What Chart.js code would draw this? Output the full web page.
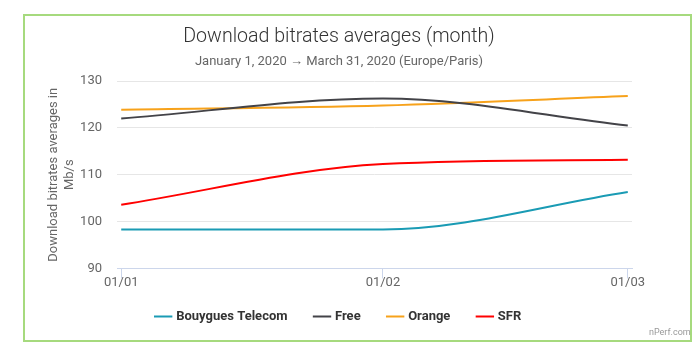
<!DOCTYPE html>
<html>
    <head>
        <meta charset="utf-8">
        <title>Download bitrates averages (month)</title>
        <script src="https://cdn.jsdelivr.net/npm/chart.js@4"></script>
        <style>
            body { margin: 0; background: #fff; font-family: Roboto, sans-serif; }
            #frame { position: absolute; left: 23px; top: 14px; width: 665px; height: 324px; border: 2px solid #a6da7e; }
            #wrap { position: absolute; left: 0; top: 0; width: 700px; height: 350px; }
            #credit { position: absolute; left: 649px; top: 327px; font-size: 9px; color: #999; }
        </style>
    </head>
    <body>
        <div id="frame"></div>
        <div id="wrap"><canvas id="index-chart"></canvas></div>
        <div id="credit">nPerf.com</div>
        <script>
            // days since 1 Jan 2020 (time axis, 2020 is a leap year)
            var array_days = [0, 31, 60];
            var array_tick_labels = ['01/01', '01/02', '01/03'];

            var bouygues = [98.3, 98.3, 106.3];
            var free = [122.0, 126.3, 120.5];
            var orange = [123.9, 124.8, 126.8];
            var sfr = [103.6, 112.3, 113.2];

            var array_names = ['Bouygues Telecom', 'Free', 'Orange', 'SFR'];
            var array_values = [bouygues, free, orange, sfr];
            var array_borderColor = ['#1a9bb4', '#434348', '#f7a21b', '#ff0000'];

            var array_datasets = [];
            for (i = 0; i < array_names.length; i++) {
                array_datasets.push({
                    'label': array_names[i],
                    'data': array_days.map((d, j) => ({x: d, y: array_values[i][j]})),
                    'borderColor': array_borderColor[i],
                    'backgroundColor': array_borderColor[i],
                    'borderWidth': 2,
                    'pointRadius': 0,
                    'fill': false,
                    'cubicInterpolationMode': 'monotone'
                });
            }

            // legend spacing is wide sideways but should stay short vertically
            var legendTweak = {
                id: 'legendTweak',
                beforeLayout: function(chart) {
                    var lg = chart.legend;
                    if (lg && !lg._patched) {
                        var fit = lg.fit;
                        lg.fit = function() {
                            fit.call(this);
                            this.height = 62;
                        };
                        lg._patched = true;
                    }
                },
                afterLayout: function(chart) {
                    chart.legend.top -= 6;
                }
            };

            new Chart(document.getElementById('index-chart'), {
                'type': 'line',
                'data': {'datasets': array_datasets},
                'plugins': [legendTweak],
                'options': {
                    responsive: true,
                    maintainAspectRatio: false,
                    animation: false,
                    layout: {padding: {left: 46, right: 68, top: 25, bottom: 0}},
                    plugins: {
                        title: {
                            display: true,
                            text: 'Download bitrates averages (month)',
                            color: '#333',
                            font: {family: 'Roboto', size: 19.6, weight: '300'},
                            padding: {top: 0, bottom: 5}
                        },
                        subtitle: {
                            display: true,
                            text: 'January 1, 2020 \u2192 March 31, 2020 (Europe/Paris)',
                            color: '#666',
                            font: {family: 'Roboto', size: 13},
                            padding: {top: 0, bottom: 12}
                        },
                        legend: {
                            position: 'bottom',
                            labels: {
                                usePointStyle: true,
                                pointStyle: 'line',
                                boxWidth: 16,
                                padding: 28,
                                color: '#333',
                                font: {family: 'Roboto', size: 13, weight: 'bold'}
                            }
                        },
                        tooltip: {enabled: false}
                    },
                    scales: {
                        x: {
                            type: 'linear',
                            min: -0.5,
                            max: 60.5,
                            afterBuildTicks: function(scale) {
                                scale.ticks = array_days.map(v => ({value: v}));
                            },
                            ticks: {
                                color: '#666',
                                font: {family: 'Roboto', size: 13},
                                maxRotation: 0,
                                padding: -3,
                                callback: function(value) {
                                    return array_tick_labels[array_days.indexOf(value)];
                                }
                            },
                            grid: {drawOnChartArea: false, color: '#ccd6eb', tickLength: 10},
                            border: {color: '#ccd6eb', width: 1}
                        },
                        y: {
                            min: 90,
                            max: 130,
                            afterFit: function(scale) {
                                scale.width = 71;
                            },
                            ticks: {
                                stepSize: 10,
                                color: '#666',
                                font: {family: 'Roboto', size: 13},
                                padding: 15
                            },
                            grid: {color: '#e6e6e6', drawTicks: false},
                            border: {display: false},
                            title: {
                                display: true,
                                text: ['Download bitrates averages in', 'Mb/s'],
                                color: '#666',
                                font: {family: 'Roboto', size: 13},
                                padding: {top: 0, bottom: 8}
                            }
                        }
                    }
                }
            });
        </script>
    </body>
</html>
